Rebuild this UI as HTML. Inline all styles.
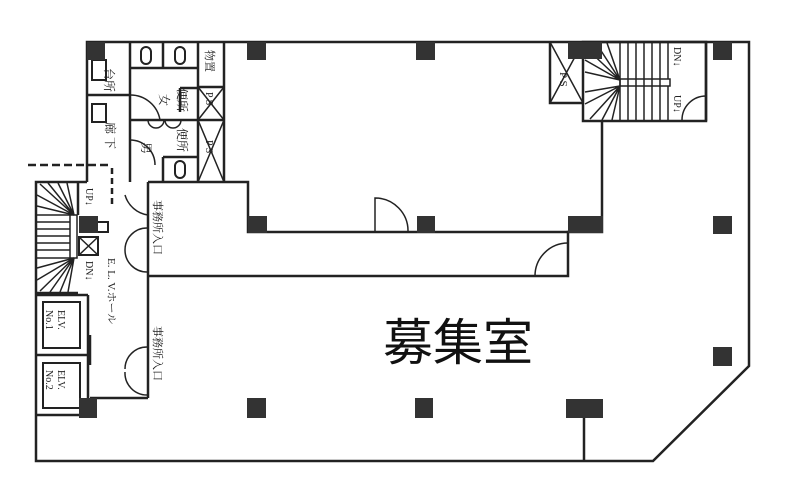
<!DOCTYPE html>
<html><head><meta charset="utf-8">
<style>
html,body{margin:0;padding:0;background:#fff;}
svg{display:block;}
text{font-family:"Liberation Serif","Noto Serif CJK SC","Noto Sans CJK JP",serif;fill:#222;}
</style></head><body>
<svg width="787" height="492" viewBox="0 0 787 492" xmlns="http://www.w3.org/2000/svg">
<g fill="none" stroke="#222" stroke-width="2.5" stroke-linejoin="miter">
<polyline points="87,182 87,42 749,42 749,366 653,461 36,461 36,182 87,182"/>
<polyline points="148,182 248,182 248,232 568,232"/>
<line x1="224" y1="42" x2="224" y2="182"/>
<polyline points="602,121 602,232 568,232 568,276 148,276"/>
<line x1="148" y1="182" x2="148" y2="398"/>
<line x1="90" y1="398" x2="148" y2="398"/>
<line x1="584" y1="418" x2="584" y2="461"/>
<line x1="130" y1="42" x2="130" y2="182"/>
<line x1="198" y1="42" x2="198" y2="182"/>
<line x1="130" y1="68" x2="198" y2="68"/>
<line x1="163" y1="42" x2="163" y2="68"/>
<line x1="130" y1="120" x2="224" y2="120"/>
<line x1="198" y1="87" x2="224" y2="87"/>
<line x1="87" y1="95" x2="130" y2="95"/>
<line x1="163" y1="157" x2="198" y2="157"/>
<line x1="163" y1="157" x2="163" y2="182"/>
<line x1="180" y1="88" x2="198" y2="88"/>
<line x1="180" y1="88" x2="180" y2="112"/>
<path d="M198,87 L224,120 M224,87 L198,120 M198,120 L224,182 M224,120 L198,182" stroke-width="1.5"/>
<rect x="141" y="47" width="10" height="17" rx="5" stroke-width="2"/>
<rect x="175" y="47" width="10" height="17" rx="5" stroke-width="2"/>
<rect x="175" y="161" width="10" height="17" rx="5" stroke-width="2"/>
<path d="M130,95 A30,30 0 0 1 160,120" stroke-width="1.5"/>
<path d="M130,140 A25,25 0 0 1 155,165" stroke-width="1.5"/>
<path d="M148,120 A8,8 0 0 0 164,120 M165,120 A8,8 0 0 0 181,120" stroke-width="1.5"/>
<rect x="92" y="60" width="14" height="20" stroke-width="2"/>
<rect x="92" y="104" width="14" height="18" stroke-width="2"/>
<line x1="28" y1="165" x2="110" y2="165" stroke-dasharray="8,4" stroke-width="2.5"/>
<line x1="112" y1="168" x2="112" y2="205" stroke-dasharray="6,4" stroke-width="2.5"/>
<line x1="36" y1="293" x2="78" y2="293"/>
<line x1="78" y1="182" x2="78" y2="215"/>
<rect x="70" y="215" width="7" height="43" stroke-width="1.5"/>
<g stroke-width="1.5">
<line x1="37" y1="222" x2="70" y2="222"/><line x1="37" y1="229" x2="70" y2="229"/>
<line x1="37" y1="236" x2="70" y2="236"/><line x1="37" y1="243" x2="70" y2="243"/>
<line x1="37" y1="250" x2="70" y2="250"/><line x1="37" y1="215" x2="70" y2="215"/>
<line x1="37" y1="258" x2="70" y2="258"/>
<path d="M74,215 L40,184 M74,215 L48,183 M74,215 L58,183 M74,215 L67,183 M74,215 L37,195 M74,215 L37,206"/>
<path d="M74,258 L37,268 M74,258 L37,280 M74,258 L40,291 M74,258 L50,292 M74,258 L60,292 M74,258 L68,292"/>
</g>
<rect x="79" y="237" width="19" height="18" stroke-width="2"/>
<path d="M79,237 L98,255 M98,237 L79,255" stroke-width="1.5"/>
<polyline points="98,222 108,222 108,232 98,232" stroke-width="2"/>
<line x1="36" y1="295" x2="88" y2="295"/>
<line x1="36" y1="355" x2="88" y2="355"/>
<line x1="88" y1="295" x2="88" y2="415"/>
<line x1="36" y1="415" x2="88" y2="415"/>
<rect x="43" y="302" width="37" height="46" stroke-width="2"/>
<rect x="43" y="363" width="37" height="45" stroke-width="2"/>
<line x1="90" y1="335" x2="90" y2="365" stroke-width="2.5"/>
<path d="M147,228 A22,22 0 0 0 125,250 M147,272 A22,22 0 0 1 125,250" stroke-width="1.5"/>
<path d="M147,347 A22,22 0 0 0 125,369 M147,395 A22,22 0 0 1 125,372" stroke-width="1.5"/>
<path d="M125,195 A28,28 0 0 0 148,215" stroke-width="1.5"/>
<path d="M375,232 L375,198 A33,33 0 0 1 408,232" stroke-width="1.5"/>
<path d="M568,243 A33,33 0 0 0 535,276" stroke-width="1.5"/>
<polyline points="550,42 550,103 583,103"/>
<rect x="583" y="42" width="123" height="79"/>
<path d="M550,42 L583,103 M583,42 L550,103" stroke-width="1.5"/>
<line x1="706" y1="42" x2="706" y2="121"/>
<rect x="620" y="79" width="50" height="7" stroke-width="1.5"/>
<g stroke-width="1.5">
<line x1="620" y1="42" x2="620" y2="121"/><line x1="628" y1="42" x2="628" y2="121"/>
<line x1="636" y1="42" x2="636" y2="121"/><line x1="644" y1="42" x2="644" y2="121"/>
<line x1="652" y1="42" x2="652" y2="121"/><line x1="660" y1="42" x2="660" y2="121"/>
<line x1="668" y1="42" x2="668" y2="79"/><line x1="668" y1="86" x2="668" y2="121"/>
<path d="M620,80 L585,47 M620,80 L596,43 M620,80 L607,43 M620,80 L585,60 M620,80 L585,72"/>
<path d="M620,86 L585,92 M620,86 L585,104 M620,86 L590,119 M620,86 L602,120 M620,86 L612,120"/>
</g>
<path d="M706,96 A24,24 0 0 0 682,120" stroke-width="1.5"/>
</g>
<g fill="#333">
<rect x="87" y="42" width="18" height="18"/>
<rect x="247" y="42" width="19" height="18"/>
<rect x="416" y="42" width="19" height="18"/>
<rect x="568" y="42" width="34" height="17"/>
<rect x="713" y="42" width="19" height="18"/>
<rect x="248" y="216" width="19" height="17"/>
<rect x="417" y="216" width="18" height="17"/>
<rect x="568" y="216" width="35" height="17"/>
<rect x="713" y="216" width="19" height="18"/>
<rect x="713" y="347" width="19" height="19"/>
<rect x="247" y="398" width="19" height="20"/>
<rect x="415" y="398" width="18" height="20"/>
<rect x="566" y="399" width="37" height="19"/>
<rect x="79" y="398" width="18" height="20"/>
<rect x="79" y="216" width="19" height="17"/>
</g>
<text x="383" y="360" font-size="50" style="font-family:'Liberation Sans','Noto Sans CJK JP',sans-serif;fill:#111">募集室</text>
<g font-size="12">
<text transform="translate(105,68) rotate(90)">台所</text>
<text transform="translate(106,122) rotate(90)">廊 下</text>
<text transform="translate(178,88) rotate(90)">便所</text>
<text transform="translate(160,94) rotate(90)">女</text>
<text transform="translate(178,128) rotate(90)">便所</text>
<text transform="translate(142,142) rotate(90)">男</text>
<text transform="translate(206,50) rotate(90)" font-size="11">物置</text>
<text transform="translate(206,92) rotate(90)" font-size="10">P S</text>
<text transform="translate(206,140) rotate(90)" font-size="10">P S</text>
<text transform="translate(560,72) rotate(90)" font-size="11">P S</text>
<text transform="translate(674,47) rotate(90)" font-size="10">DN↓</text>
<text transform="translate(674,95) rotate(90)" font-size="10">UP↓</text>
<text transform="translate(86,188) rotate(90)" font-size="10">UP↓</text>
<text transform="translate(86,261) rotate(90)" font-size="10">DN↓</text>
<text transform="translate(154,200) rotate(90)" font-size="11">事務所入口</text>
<text transform="translate(154,326) rotate(90)" font-size="11">事務所入口</text>
<text transform="translate(108,258) rotate(90)" font-size="11">E. L. V.ホール</text>
<text transform="translate(58,310) rotate(90)" font-size="10">ELV.</text>
<text transform="translate(46,310) rotate(90)" font-size="10">No.1</text>
<text transform="translate(58,370) rotate(90)" font-size="10">ELV.</text>
<text transform="translate(46,370) rotate(90)" font-size="10">No.2</text>
</g>
</svg>
</body></html>
